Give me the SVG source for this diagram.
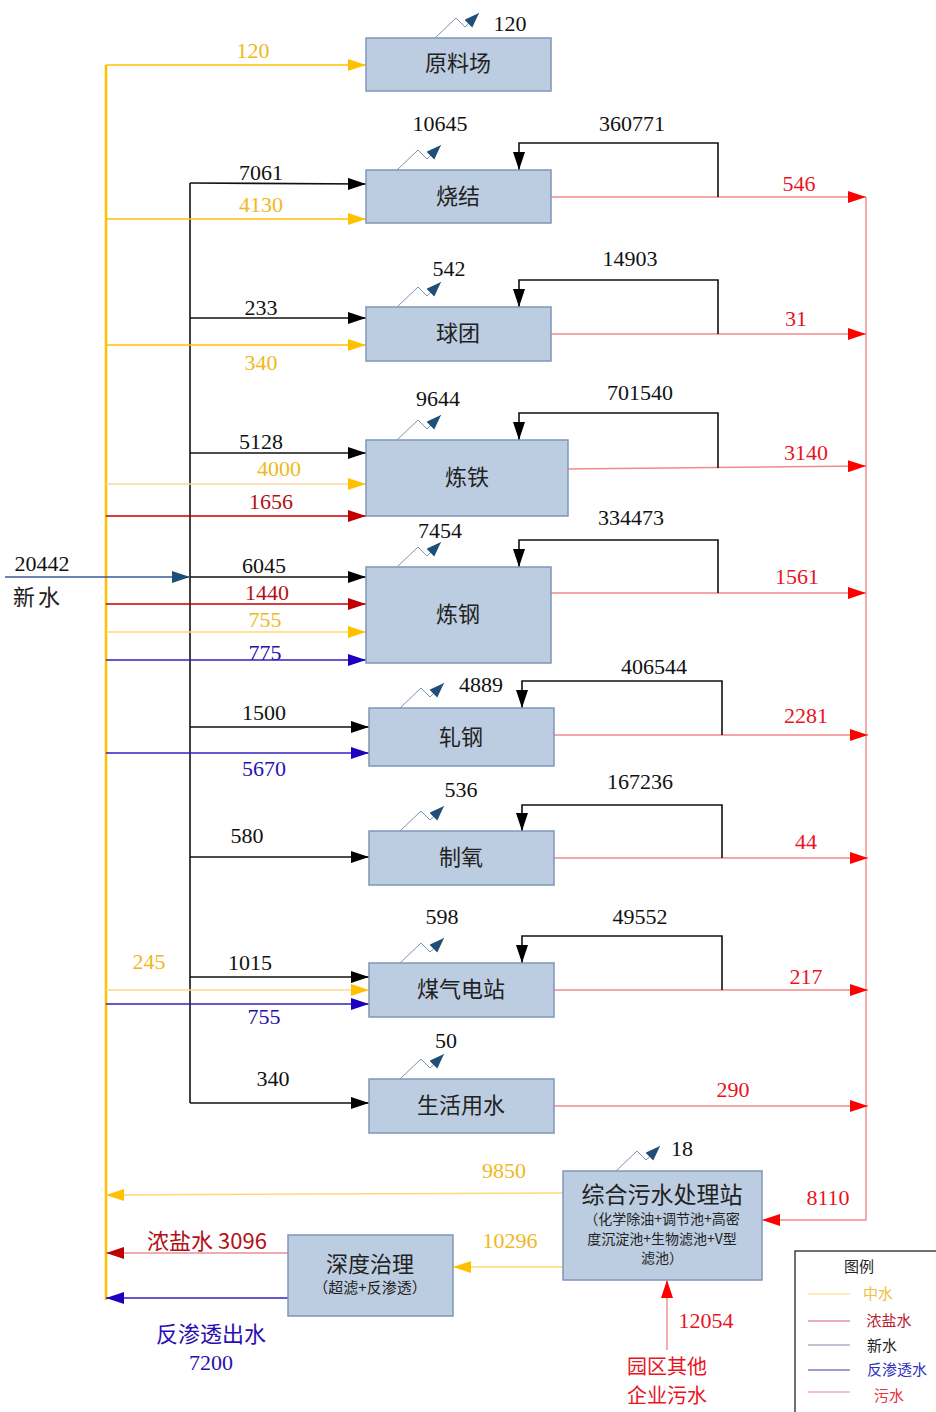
<svg xmlns="http://www.w3.org/2000/svg" width="936" height="1412" viewBox="0 0 936 1412">
<style>
.box{fill:#BDCDE1;stroke:#7F96B8;stroke-width:1.5}
.t{font-family:"Liberation Serif","Noto Sans CJK SC",serif;font-size:22px;text-anchor:middle}
.c{font-family:"Noto Sans CJK SC","Liberation Serif",sans-serif;font-size:22px;text-anchor:middle;fill:#222}
.s{font-family:"Noto Sans CJK SC",sans-serif;font-size:14px;text-anchor:middle;fill:#222}
.k{fill:#111}
.y{fill:#F0B820}
.r{fill:#E8141E}
.dr{fill:#B40F18}
.b{fill:#2A10B0}
.lk{stroke:#111;stroke-width:1.6;fill:none}
.ly{stroke:#FFC000;stroke-width:1.5;fill:none}
.lr{stroke:#F08A8A;stroke-width:1.4;fill:none}
.ldr{stroke:#C00000;stroke-width:1.5;fill:none}
.lb{stroke:#3020C0;stroke-width:1.3;fill:none}
.ev{stroke:#8090AE;stroke-width:1;fill:none}
</style>
<defs>
<marker id="ak" markerUnits="userSpaceOnUse" markerWidth="20" markerHeight="14" refX="18" refY="6" orient="auto"><path d="M0,0 L18,6 L0,12 z" fill="#000"/></marker>
<marker id="ay" markerUnits="userSpaceOnUse" markerWidth="20" markerHeight="14" refX="18" refY="6" orient="auto"><path d="M0,0 L18,6 L0,12 z" fill="#FFC000"/></marker>
<marker id="ar" markerUnits="userSpaceOnUse" markerWidth="20" markerHeight="14" refX="18" refY="6" orient="auto"><path d="M0,0 L18,6 L0,12 z" fill="#FF0000"/></marker>
<marker id="adr" markerUnits="userSpaceOnUse" markerWidth="20" markerHeight="14" refX="18" refY="6" orient="auto"><path d="M0,0 L18,6 L0,12 z" fill="#C00000"/></marker>
<marker id="ab" markerUnits="userSpaceOnUse" markerWidth="20" markerHeight="14" refX="18" refY="6" orient="auto"><path d="M0,0 L18,6 L0,12 z" fill="#2000C0"/></marker>
<marker id="an" markerUnits="userSpaceOnUse" markerWidth="20" markerHeight="14" refX="18" refY="6" orient="auto"><path d="M0,0 L18,6 L0,12 z" fill="#1F4E79"/></marker>
<marker id="ae" markerUnits="userSpaceOnUse" markerWidth="18" markerHeight="12" refX="15" refY="5.5" orient="auto"><path d="M0,0 L15,5.5 L0,11 z" fill="#1F4E79"/></marker>
<path id="evap" d="M0,0 L21,-20 L30,-11 L44,-25" class="ev" marker-end="url(#ae)"/>
</defs>

<g id="connectors">
<path d="M106,65 V1300" stroke="#FFC000" stroke-width="2.5" fill="none"/>
<path d="M190,183 V1103" class="lk"/>
<path d="M5,577 H190" stroke="#3A5A9A" stroke-width="1.4" fill="none" marker-end="url(#an)"/>
<path d="M866,197 V1220 H762" class="lr" marker-end="url(#ar)"/>

<path d="M106,65 H366" class="ly" marker-end="url(#ay)"/>
<path d="M190,183 L366,184" class="lk" marker-end="url(#ak)"/>
<path d="M106,219 H366" class="ly" marker-end="url(#ay)"/>
<path d="M190,318 H366" class="lk" marker-end="url(#ak)"/>
<path d="M106,345 H366" class="ly" marker-end="url(#ay)"/>
<path d="M190,453 H366" class="lk" marker-end="url(#ak)"/>
<path d="M106,484 H366" stroke="#FAD9A8" stroke-width="1.5" fill="none" marker-end="url(#ay)"/>
<path d="M106,516 H366" class="ldr" marker-end="url(#adr)"/>
<path d="M190,577 H366" class="lk" marker-end="url(#ak)"/>
<path d="M106,604 H366" class="ldr" marker-end="url(#adr)"/>
<path d="M106,632 H366" stroke="#FFD870" stroke-width="1.5" fill="none" marker-end="url(#ay)"/>
<path d="M106,660 H366" class="lb" marker-end="url(#ab)"/>
<path d="M190,727 H369" class="lk" marker-end="url(#ak)"/>
<path d="M106,753 H369" class="lb" marker-end="url(#ab)"/>
<path d="M190,857 H369" class="lk" marker-end="url(#ak)"/>
<path d="M190,977 H369" class="lk" marker-end="url(#ak)"/>
<path d="M106,990 H369" stroke="#FFD890" stroke-width="1.5" fill="none" marker-end="url(#ay)"/>
<path d="M106,1004 H369" class="lb" marker-end="url(#ab)"/>
<path d="M190,1103 H369" class="lk" marker-end="url(#ak)"/>

<path d="M551,197 H866" class="lr" marker-end="url(#ar)"/>
<path d="M551,334 H866" class="lr" marker-end="url(#ar)"/>
<path d="M568,469 L866,466" class="lr" marker-end="url(#ar)"/>
<path d="M551,593 H866" class="lr" marker-end="url(#ar)"/>
<path d="M554,735 H868" class="lr" marker-end="url(#ar)"/>
<path d="M554,858 H868" class="lr" marker-end="url(#ar)"/>
<path d="M554,990 H868" class="lr" marker-end="url(#ar)"/>
<path d="M554,1106 H868" class="lr" marker-end="url(#ar)"/>

<path d="M718,197 V143 H519 V170" class="lk" marker-end="url(#ak)"/>
<path d="M718,334 V280 H519 V307" class="lk" marker-end="url(#ak)"/>
<path d="M718,468 V413 H519 V440" class="lk" marker-end="url(#ak)"/>
<path d="M718,593 V540 H519 V567" class="lk" marker-end="url(#ak)"/>
<path d="M722,735 V681 H522 V708" class="lk" marker-end="url(#ak)"/>
<path d="M722,858 V805 H522 V831" class="lk" marker-end="url(#ak)"/>
<path d="M722,990 V936 H522 V963" class="lk" marker-end="url(#ak)"/>

<path d="M563,1193 L106,1195" stroke="#FFD870" stroke-width="1.5" fill="none" marker-end="url(#ay)"/>
<path d="M563,1267 H453" stroke="#FFD870" stroke-width="1.5" fill="none" marker-end="url(#ay)"/>
<path d="M667,1350 V1280" class="lr" marker-end="url(#ar)"/>
<path d="M288,1253 H106" stroke="#E89098" stroke-width="1.5" fill="none" marker-end="url(#adr)"/>
<path d="M288,1298 H106" class="lb" marker-end="url(#ab)"/>

<use href="#evap" x="435" y="38"/>
<use href="#evap" x="397" y="170"/>
<use href="#evap" x="397" y="307"/>
<use href="#evap" x="397" y="440"/>
<use href="#evap" x="397" y="567"/>
<use href="#evap" x="400" y="708"/>
<use href="#evap" x="400" y="831"/>
<use href="#evap" x="400" y="963"/>
<use href="#evap" x="400" y="1079"/>
<use href="#evap" x="616" y="1171"/>
</g>

<g id="labels">
<text class="t y" x="253" y="58">120</text>
<text class="t k" x="510" y="31">120</text>
<text class="t k" x="440" y="131">10645</text>
<text class="t k" x="632" y="131">360771</text>
<text class="t k" x="261" y="180">7061</text>
<text class="t y" x="261" y="212">4130</text>
<text class="t r" x="799" y="191">546</text>
<text class="t k" x="449" y="276">542</text>
<text class="t k" x="630" y="266">14903</text>
<text class="t k" x="261" y="315">233</text>
<text class="t y" x="261" y="370">340</text>
<text class="t r" x="796" y="326">31</text>
<text class="t k" x="438" y="406">9644</text>
<text class="t k" x="640" y="400">701540</text>
<text class="t k" x="261" y="449">5128</text>
<text class="t y" x="279" y="476">4000</text>
<text class="t dr" x="271" y="509">1656</text>
<text class="t r" x="806" y="460">3140</text>
<text class="t k" x="440" y="538">7454</text>
<text class="t k" x="631" y="525">334473</text>
<text class="t k" x="264" y="573">6045</text>
<text class="t dr" x="267" y="600">1440</text>
<text class="t y" x="265" y="627">755</text>
<text class="t b" x="265" y="660">775</text>
<text class="t r" x="797" y="584">1561</text>
<text class="t k" x="42" y="571">20442</text>
<text class="c" x="38" y="605" style="letter-spacing:3px">新水</text>
<text class="t k" x="481" y="692">4889</text>
<text class="t k" x="654" y="674">406544</text>
<text class="t k" x="264" y="720">1500</text>
<text class="t b" x="264" y="776">5670</text>
<text class="t r" x="806" y="723">2281</text>
<text class="t k" x="461" y="797">536</text>
<text class="t k" x="640" y="789">167236</text>
<text class="t k" x="247" y="843">580</text>
<text class="t r" x="806" y="849">44</text>
<text class="t k" x="442" y="924">598</text>
<text class="t k" x="640" y="924">49552</text>
<text class="t y" x="149" y="969">245</text>
<text class="t k" x="250" y="970">1015</text>
<text class="t b" x="264" y="1024">755</text>
<text class="t r" x="806" y="984">217</text>
<text class="t k" x="446" y="1048">50</text>
<text class="t k" x="273" y="1086">340</text>
<text class="t r" x="733" y="1097">290</text>
<text class="t k" x="682" y="1156">18</text>
<text class="t y" x="504" y="1178">9850</text>
<text class="t r" x="828" y="1205">8110</text>
<text class="t y" x="510" y="1248">10296</text>
<text class="c" x="207" y="1249" style="fill:#B40F18">浓盐水  3096</text>
<text class="c" x="211" y="1342" style="fill:#2A10B0">反渗透出水</text>
<text class="t b" x="211" y="1370">7200</text>
<text class="t r" x="706" y="1328">12054</text>
<text class="c" x="667" y="1374" style="fill:#E8141E;font-size:20px">园区其他</text>
<text class="c" x="667" y="1403" style="fill:#E8141E;font-size:20px">企业污水</text>
</g>

<g id="n-yuanliao"><rect class="box" x="366" y="38" width="185" height="53"/><text class="c" x="458" y="71">原料场</text></g>
<g id="n-shaojie"><rect class="box" x="366" y="170" width="185" height="53"/><text class="c" x="458" y="204">烧结</text></g>
<g id="n-qiutuan"><rect class="box" x="366" y="307" width="185" height="54"/><text class="c" x="458" y="341">球团</text></g>
<g id="n-liantie"><rect class="box" x="366" y="440" width="202" height="76"/><text class="c" x="467" y="485">炼铁</text></g>
<g id="n-liangang"><rect class="box" x="366" y="567" width="185" height="96"/><text class="c" x="458" y="622">炼钢</text></g>
<g id="n-zhagang"><rect class="box" x="369" y="708" width="185" height="58"/><text class="c" x="461" y="745">轧钢</text></g>
<g id="n-zhiyang"><rect class="box" x="369" y="831" width="185" height="54"/><text class="c" x="461" y="865">制氧</text></g>
<g id="n-meiqi"><rect class="box" x="369" y="963" width="185" height="54"/><text class="c" x="461" y="997">煤气电站</text></g>
<g id="n-shenghuo"><rect class="box" x="369" y="1079" width="185" height="54"/><text class="c" x="461" y="1113">生活用水</text></g>
<g id="n-wushui"><rect class="box" x="563" y="1171" width="199" height="109"/>
<text class="c" x="662" y="1203" style="font-size:23px">综合污水处理站</text>
<text class="s" x="662" y="1224">（化学除油+调节池+高密</text>
<text class="s" x="662" y="1244">度沉淀池+生物滤池+V型</text>
<text class="s" x="662" y="1263">滤池）</text></g>
<g id="n-shendu"><rect class="box" x="288" y="1235" width="165" height="81"/>
<text class="c" x="370" y="1272">深度治理</text>
<text class="s" x="370" y="1293" style="font-size:15px">（超滤+反渗透）</text></g>

<g id="legend">
<rect x="795" y="1251" width="150" height="170" fill="#fff" stroke="#111" stroke-width="1.2"/>
<text x="859" y="1272" style="font-family:'Noto Sans CJK SC',sans-serif;font-size:15px;text-anchor:middle;fill:#222">图例</text>
<path d="M808,1294 H850" stroke="#FFD870" stroke-width="1.2"/>
<path d="M808,1321 H850" stroke="#D06070" stroke-width="1.2"/>
<path d="M808,1345 H850" stroke="#8088A8" stroke-width="1.2"/>
<path d="M808,1370 H850" stroke="#4040A0" stroke-width="1.2"/>
<path d="M808,1392 H850" stroke="#F08080" stroke-width="1.2"/>
<text x="878" y="1299" style="font-family:'Noto Sans CJK SC',sans-serif;font-size:15px;text-anchor:middle;fill:#F0C040">中水</text>
<text x="889" y="1326" style="font-family:'Noto Sans CJK SC',sans-serif;font-size:15px;text-anchor:middle;fill:#B82030">浓盐水</text>
<text x="882" y="1351" style="font-family:'Noto Sans CJK SC',sans-serif;font-size:15px;text-anchor:middle;fill:#222">新水</text>
<text x="897" y="1375" style="font-family:'Noto Sans CJK SC',sans-serif;font-size:15px;text-anchor:middle;fill:#3030C0">反渗透水</text>
<text x="889" y="1401" style="font-family:'Noto Sans CJK SC',sans-serif;font-size:15px;text-anchor:middle;fill:#E83040">污水</text>
</g>
</svg>
